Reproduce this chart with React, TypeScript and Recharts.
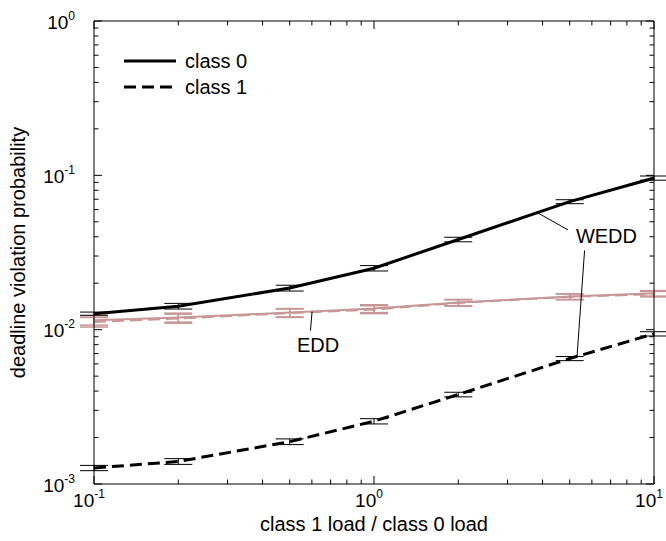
import React from 'react';
import { LineChart, Line, XAxis, YAxis, ErrorBar, Legend, ReferenceLine, ReferenceDot } from 'recharts';

const FONT = '"Liberation Sans", Arial, Helvetica, sans-serif';

// load ratio (class 1 load / class 0 load)
const loadRatio = [0.1, 0.2, 0.5, 1, 2, 5, 10];
// WEDD
const wedd0 = [0.0127, 0.0142, 0.0186, 0.025, 0.0384, 0.0675, 0.096];
const wedd0Err = [0.0003, 0.0006, 0.0008, 0.001, 0.0013, 0.002, 0.003];
const wedd1 = [0.00127, 0.0014, 0.00188, 0.00255, 0.0038, 0.0065, 0.0094];
const wedd1Err = [0.00005, 0.00006, 0.00008, 0.0001, 0.00013, 0.0002, 0.0003];
// EDD
const edd0 = [0.0115, 0.012, 0.0129, 0.0137, 0.015, 0.0164, 0.0172];
const edd0Err = [0.0008, 0.0008, 0.0008, 0.0008, 0.0007, 0.0007, 0.0007];
const edd1 = [0.0112, 0.0118, 0.0128, 0.0135, 0.0149, 0.0163, 0.017];
const edd1Err = [0.0008, 0.0008, 0.0008, 0.0008, 0.0007, 0.0007, 0.0007];

const xTicks = [0.1, 0.2, 0.3, 0.4, 0.5, 0.6, 0.7, 0.8, 0.9, 1, 2, 3, 4, 5, 6, 7, 8, 9, 10];
const yTicks = [
  0.001, 0.002, 0.003, 0.004, 0.005, 0.006, 0.007, 0.008, 0.009,
  0.01, 0.02, 0.03, 0.04, 0.05, 0.06, 0.07, 0.08, 0.09,
  0.1, 0.2, 0.3, 0.4, 0.5, 0.6, 0.7, 0.8, 0.9, 1,
];

const data = loadRatio.map((x, i) => ({
  x,
  wedd0: wedd0[i],
  wedd0Err: wedd0Err[i],
  wedd1: wedd1[i],
  wedd1Err: wedd1Err[i],
  edd0: edd0[i],
  edd0Err: edd0Err[i],
  edd1: edd1[i],
  edd1Err: edd1Err[i],
}));

const PINK = '#c79797';
const DASH = '12 6';
const TXT = 20;

const isMajor = (v: number) => Math.abs(Math.log10(v) - Math.round(Math.log10(v))) < 1e-6;
const expOf = (v: number) => Math.round(Math.log10(v));

const Pow = ({ x, y, exp, anchor }: any) => (
  <text x={x} y={y} textAnchor={anchor} fontFamily={FONT} fontSize={19} fill="#000">
    10
    <tspan dy={-9} fontSize={12}>
      {String(exp)}
    </tspan>
  </text>
);

const BottomTick = (props: any) => {
  const { x, y, payload } = props;
  const v = payload.value;
  const major = isMajor(v);
  return (
    <g>
      <line x1={x} x2={x} y1={y} y2={y - (major ? 8 : 4.5)} stroke="#000" strokeWidth={1} />
      {major && <Pow x={x - 5} y={y + 23} exp={expOf(v)} anchor="middle" />}
    </g>
  );
};

const TopTick = (props: any) => {
  const { x, y, payload } = props;
  const major = isMajor(payload.value);
  return <line x1={x} x2={x} y1={y} y2={y + (major ? 8 : 4.5)} stroke="#000" strokeWidth={1} />;
};

const LeftTick = (props: any) => {
  const { x, y, payload } = props;
  const v = payload.value;
  const major = isMajor(v);
  return (
    <g>
      <line x1={x} x2={x + (major ? 8 : 4.5)} y1={y} y2={y} stroke="#000" strokeWidth={1} />
      {major && <Pow x={x - 19} y={y + 7.5} exp={expOf(v)} anchor="end" />}
    </g>
  );
};

const RightTick = (props: any) => {
  const { x, y, payload } = props;
  const major = isMajor(payload.value);
  return <line x1={x} x2={x - (major ? 8 : 4.5)} y1={y} y2={y} stroke="#000" strokeWidth={1} />;
};

const LegendContent = (props: any) => {
  const items = (props.payload || []).filter((p: any) => p.type !== 'none');
  return (
    <svg width={150} height={56} style={{ display: 'block' }}>
      {items.map((it: any, i: number) => {
        const yy = 13 + 26 * i;
        return (
          <g key={i}>
            <line
              x1={0}
              x2={52}
              y1={yy}
              y2={yy}
              stroke={it.color}
              strokeWidth={3}
              strokeDasharray={it.payload && it.payload.strokeDasharray}
            />
            <text x={61} y={yy + 7} fontFamily={FONT} fontSize={TXT} fill="#000">
              {it.value}
            </text>
          </g>
        );
      })}
    </svg>
  );
};

const AnnoLabel = (props: any) => {
  const vb = props.viewBox || {};
  return (
    <text x={vb.x} y={vb.y + 7} fontFamily={FONT} fontSize={TXT} fill="#000" textAnchor="start">
      {props.text}
    </text>
  );
};

const YTitle = (props: any) => {
  const vb = props.viewBox || {};
  const cy = vb.y + vb.height / 2;
  const cx = 25;
  return (
    <text
      x={cx}
      y={cy}
      transform={`rotate(-90 ${cx} ${cy})`}
      textAnchor="middle"
      fontFamily={FONT}
      fontSize={TXT}
      fill="#000"
    >
      deadline violation probability
    </text>
  );
};

const XTitle = (props: any) => {
  const vb = props.viewBox || {};
  return (
    <text x={vb.x + vb.width / 2} y={531} textAnchor="middle" fontFamily={FONT} fontSize={TXT} fill="#000">
      class 1 load / class 0 load
    </text>
  );
};

export default function App() {
  return (
    <div style={{ position: 'absolute', left: 0, top: 0, width: 666, height: 541, background: '#fff' }}>
      <LineChart width={666} height={541} data={data} margin={{ top: 20, right: 11, bottom: 17, left: 34 }}>
        <XAxis
          dataKey="x"
          type="number"
          scale="log"
          domain={[0.1, 10]}
          ticks={xTicks}
          interval={0}
          allowDataOverflow
          height={40}
          tickSize={0}
          tickMargin={0}
          tickLine={false}
          tick={<BottomTick />}
          axisLine={{ stroke: '#000', strokeWidth: 1 }}
          label={<XTitle />}
        />
        <XAxis
          xAxisId="top"
          dataKey="x"
          type="number"
          scale="log"
          domain={[0.1, 10]}
          ticks={xTicks}
          interval={0}
          allowDataOverflow
          orientation="top"
          height={1}
          tickSize={0}
          tickMargin={0}
          tickLine={false}
          tick={<TopTick />}
          axisLine={{ stroke: '#000', strokeWidth: 1 }}
        />
        <YAxis
          type="number"
          scale="log"
          domain={[0.001, 1]}
          ticks={yTicks}
          interval={0}
          allowDataOverflow
          width={60}
          tickSize={0}
          tickMargin={0}
          tickLine={false}
          tick={<LeftTick />}
          axisLine={{ stroke: '#000', strokeWidth: 1 }}
          label={<YTitle />}
        />
        <YAxis
          yAxisId="right"
          orientation="right"
          type="number"
          scale="log"
          domain={[0.001, 1]}
          ticks={yTicks}
          interval={0}
          allowDataOverflow
          width={1}
          tickSize={0}
          tickMargin={0}
          tickLine={false}
          tick={<RightTick />}
          axisLine={{ stroke: '#000', strokeWidth: 1 }}
        />
        <Legend
          layout="vertical"
          align="center"
          verticalAlign="middle"
          content={<LegendContent />}
          wrapperStyle={{ left: 124, top: 48, width: 150, height: 56 }}
        />
        <Line
          dataKey="edd0"
          name="EDD class 0"
          legendType="none"
          type="linear"
          stroke={PINK}
          strokeWidth={2}
          dot={false}
          isAnimationActive={false}
        >
          <ErrorBar dataKey="edd0Err" width={14} stroke={PINK} strokeWidth={1.5} direction="y" isAnimationActive={false} />
        </Line>
        <Line
          dataKey="edd1"
          name="EDD class 1"
          legendType="none"
          type="linear"
          stroke={PINK}
          strokeWidth={2}
          strokeDasharray={DASH}
          dot={false}
          isAnimationActive={false}
        >
          <ErrorBar dataKey="edd1Err" width={14} stroke={PINK} strokeWidth={1.5} direction="y" isAnimationActive={false} />
        </Line>
        <Line
          dataKey="wedd0"
          name="class 0"
          type="linear"
          stroke="#000"
          strokeWidth={3}
          dot={false}
          isAnimationActive={false}
        >
          <ErrorBar dataKey="wedd0Err" width={14} stroke="#000" strokeWidth={1} direction="y" isAnimationActive={false} />
        </Line>
        <Line
          dataKey="wedd1"
          name="class 1"
          type="linear"
          stroke="#000"
          strokeWidth={3}
          strokeDasharray={DASH}
          dot={false}
          isAnimationActive={false}
        >
          <ErrorBar dataKey="wedd1Err" width={14} stroke="#000" strokeWidth={1} direction="y" isAnimationActive={false} />
        </Line>
        <ReferenceLine segment={[{ x: 3.82, y: 0.0575 }, { x: 4.93, y: 0.0443 }]} stroke="#000" strokeWidth={1} />
        <ReferenceLine segment={[{ x: 5.65, y: 0.0326 }, { x: 5.31, y: 0.00668 }]} stroke="#000" strokeWidth={1} />
        <ReferenceLine segment={[{ x: 0.601, y: 0.0131 }, { x: 0.593, y: 0.00985 }]} stroke="#000" strokeWidth={1} />
        <ReferenceDot x={5.26} y={0.0402} r={0} stroke="none" fill="none" label={<AnnoLabel text="WEDD" />} />
        <ReferenceDot x={0.531} y={0.008} r={0} stroke="none" fill="none" label={<AnnoLabel text="EDD" />} />
      </LineChart>
    </div>
  );
}
